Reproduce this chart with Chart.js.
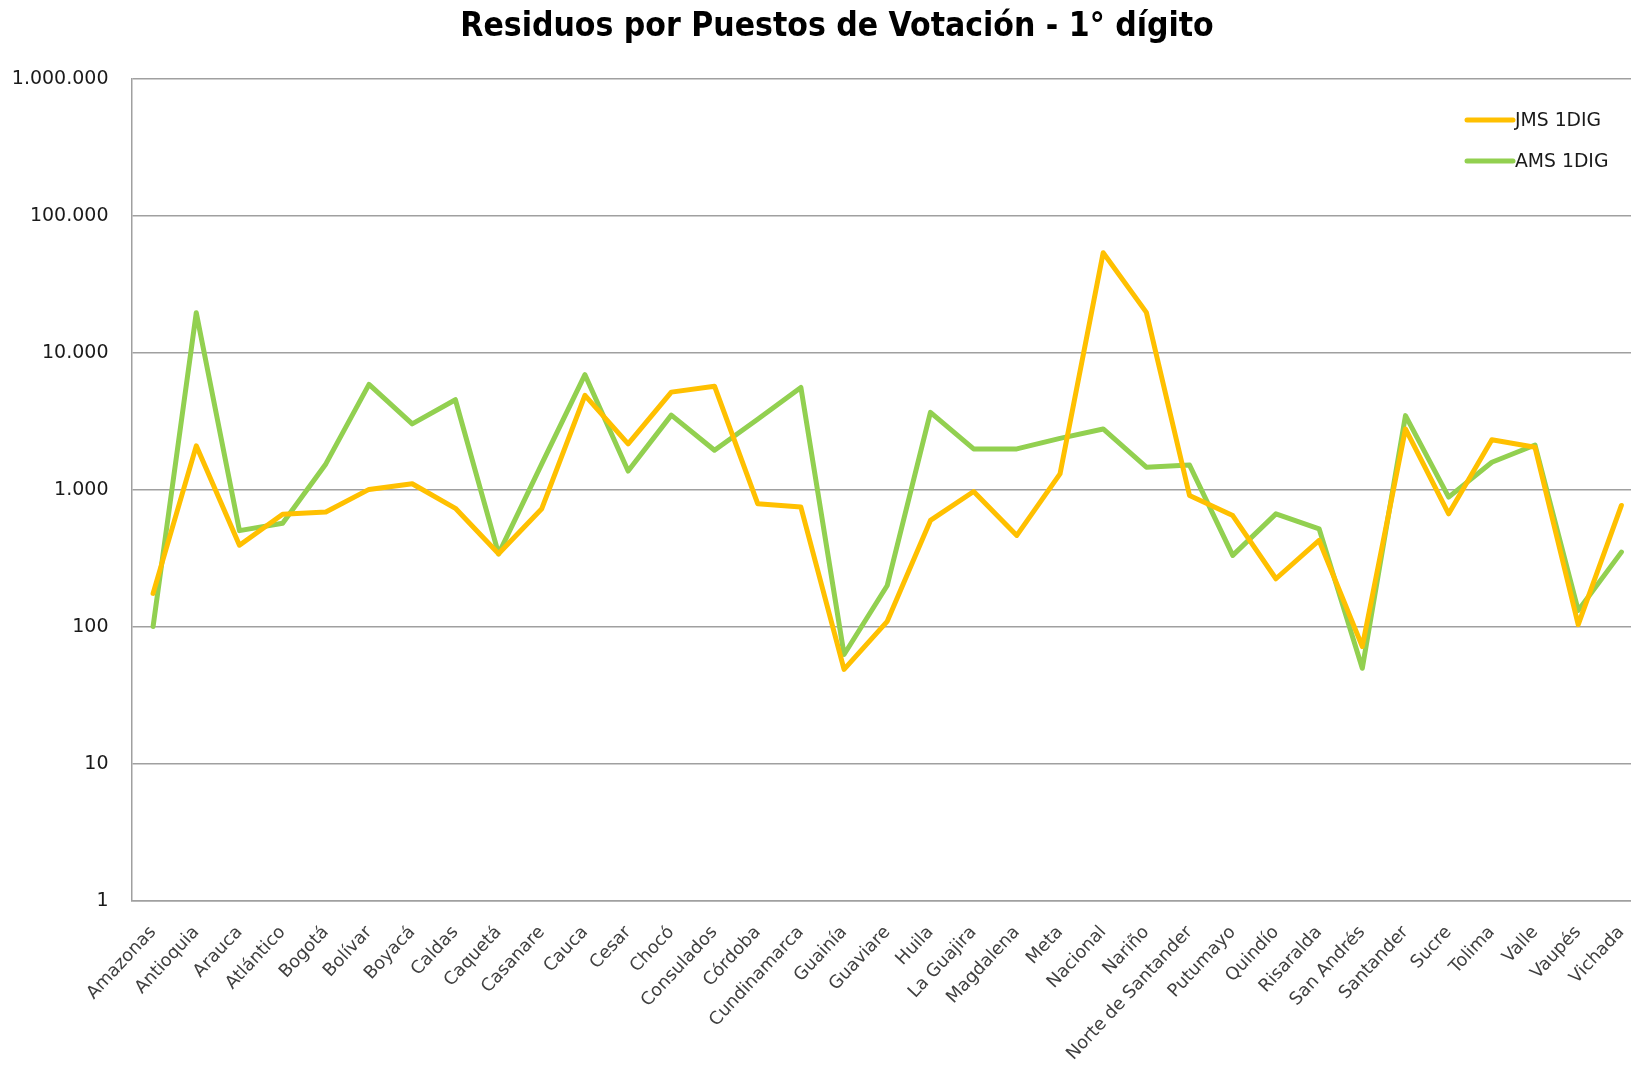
<!DOCTYPE html>
<html>
<head>
<meta charset="utf-8">
<script src="https://cdn.jsdelivr.net/npm/chart.js@4/dist/chart.umd.min.js"></script>
<style>
  html, body { margin: 0; padding: 0; background: #ffffff; overflow: hidden; }
  #wrap { width: 1674px; height: 1074px; }
</style>
</head>
<body>
<div id="wrap"><canvas id="c" width="1674" height="1074"></canvas></div>
<script>
const titleText = 'Residuos por Puestos de Votación - 1° dígito';
const categories = ['Amazonas','Antioquia','Arauca','Atlántico','Bogotá','Bolívar','Boyacá','Caldas','Caquetá','Casanare','Cauca','Cesar','Chocó','Consulados','Córdoba','Cundinamarca','Guainía','Guaviare','Huila','La Guajira','Magdalena','Meta','Nacional','Nariño','Norte de Santander','Putumayo','Quindío','Risaralda','San Andrés','Santander','Sucre','Tolima','Valle','Vaupés','Vichada'];
const seriesNames = ['JMS 1DIG', 'AMS 1DIG'];
const jmsValues = [176, 2100, 395, 665, 690, 1010, 1110, 735, 342, 730, 4900, 2170, 5180, 5720, 795, 750, 49, 110, 600, 975, 466, 1310, 54000, 19800, 912, 651, 225, 428, 72, 2790, 670, 2330, 2050, 104, 771];
const amsValues = [101, 19700, 505, 572, 1550, 5900, 3040, 4560, 342, 1550, 6950, 1375, 3520, 1950, 3280, 5610, 63, 201, 3690, 1995, 1995, 2380, 2790, 1466, 1520, 333, 670, 521, 50, 3490, 887, 1595, 2130, 132, 352];
const yTickValues = [1, 10, 100, 1000, 10000, 100000, 1000000];
const yTickLabels = ['1', '10', '100', '1.000', '10.000', '100.000', '1.000.000'];

const seriesColors = ['#FFC000', '#92D050'];

const titleAndLegend = {
  id: 'titleAndLegend',
  afterDraw(chart) {
    const ctx = chart.ctx;
    ctx.save();
    // title, centred on the full chart width
    ctx.fillStyle = '#000000';
    ctx.font = 'bold 33.4px "Liberation Sans Narrow", "DejaVu Sans Condensed", Lato';
    ctx.textAlign = 'center';
    ctx.textBaseline = 'middle';
    ctx.fillText(titleText, chart.width / 2, 27);
    // legend inside the plot area, top right
    const x0 = 1467, x1 = 1513, tx = 1515;
    const ys = [120, 161];
    chart.data.datasets.forEach((ds, i) => {
      ctx.strokeStyle = ds.borderColor;
      ctx.lineWidth = 5;
      ctx.lineCap = 'round';
      ctx.beginPath();
      ctx.moveTo(x0, ys[i]);
      ctx.lineTo(x1, ys[i]);
      ctx.stroke();
      ctx.fillStyle = '#1a1a1a';
      ctx.font = '18.8px "DejaVu Sans"';
      ctx.textBaseline = 'middle';
      ctx.textAlign = 'left';
      ctx.fillText(ds.label, tx, ys[i] + 1);
    });
    ctx.restore();
  }
};

new Chart(document.getElementById('c'), {
  type: 'line',
  data: {
    labels: categories,
    datasets: [
      { label: seriesNames[0], data: jmsValues, borderColor: seriesColors[0], backgroundColor: seriesColors[0] },
      { label: seriesNames[1], data: amsValues, borderColor: seriesColors[1], backgroundColor: seriesColors[1] }
    ]
  },
  options: {
    responsive: false,
    animation: false,
    devicePixelRatio: 1,
    layout: { padding: { left: 0, right: 31, top: 79, bottom: 0 } },
    elements: {
      line: { borderWidth: 5, tension: 0, borderJoinStyle: 'round', borderCapStyle: 'round' },
      point: { radius: 0, hoverRadius: 0 }
    },
    plugins: {
      legend: { display: false },
      tooltip: { enabled: false },
      title: { display: false }
    },
    scales: {
      x: {
        type: 'category',
        offset: true,
        grid: { display: false, drawTicks: false },
        border: { display: true, color: '#a0a0a0', width: 1.5 },
        ticks: {
          autoSkip: false,
          maxRotation: 47,
          minRotation: 47,
          padding: 21,
          color: '#404040',
          font: { family: '"DejaVu Sans"', size: 17.8 }
        },
        afterFit(scale) { scale.height = 173; }
      },
      y: {
        type: 'logarithmic',
        min: 1,
        max: 1000000,
        afterBuildTicks(scale) { scale.ticks = yTickValues.map(v => ({ value: v })); },
        grid: { color: '#a0a0a0', lineWidth: 1.5, drawTicks: false },
        border: { display: true, color: '#a0a0a0', width: 1.5 },
        ticks: {
          padding: 23,
          color: '#1a1a1a',
          font: { family: '"DejaVu Sans"', size: 19 },
          callback: (v, i) => yTickLabels[i]
        },
        afterFit(scale) { scale.width = 131.5; }
      }
    }
  },
  plugins: [titleAndLegend]
});
</script>
</body>
</html>
